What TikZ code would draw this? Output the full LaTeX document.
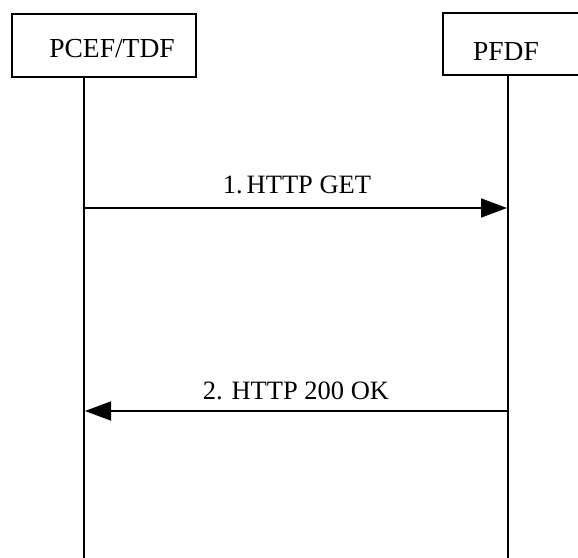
\documentclass[tikz,border=0pt]{standalone}
\usepackage{fontspec}
\setmainfont{Liberation Serif}
\usetikzlibrary{arrows.meta}
\begin{document}
\begin{tikzpicture}[x=1pt,y=-1pt,
  entity/.style={draw,line width=1.8pt,inner sep=0pt},
  lifeline/.style={line width=1.8pt},
  msg/.style={line width=1.8pt,-{Triangle[length=26pt,width=19pt]}},
  lbl/.style={font=\fontsize{26.5}{30}\selectfont,inner sep=0pt,anchor=base},
  elbl/.style={font=\fontsize{27.5}{31}\selectfont,inner sep=0pt,anchor=base}]
\useasboundingbox (0,0) rectangle (578,557);
\clip (0,0) rectangle (578,557);
\fill[white] (0,0) rectangle (578,557);
% entity boxes
\draw[entity] (12,14) rectangle (196,77);
\node[elbl] (pcef) at (112,57) {PCEF/TDF};
\draw[entity] (443,13) rectangle (600,75);
\node[elbl] (pfdf) at (506,60) {PFDF};
% lifelines
\coordinate (atop) at (84,77);
\coordinate (abot) at (84,560);
\coordinate (btop) at (508,75);
\coordinate (bbot) at (508,560);
\draw[lifeline] (atop) -- (abot);
\draw[lifeline] (btop) -- (bbot);
% messages
\coordinate (m1a) at (84,208);
\coordinate (m1b) at (507,208);
\coordinate (m2a) at (508,411);
\coordinate (m2b) at (85,411);
\draw[msg] (m1a) -- (m1b);
\node[lbl] (l1) at (297,193) {1.\hspace{0.15em}HTTP GET};
\draw[msg] (m2a) -- (m2b);
\node[lbl] (l2) at (296,399) {2. HTTP 200 OK};
\end{tikzpicture}
\end{document}
